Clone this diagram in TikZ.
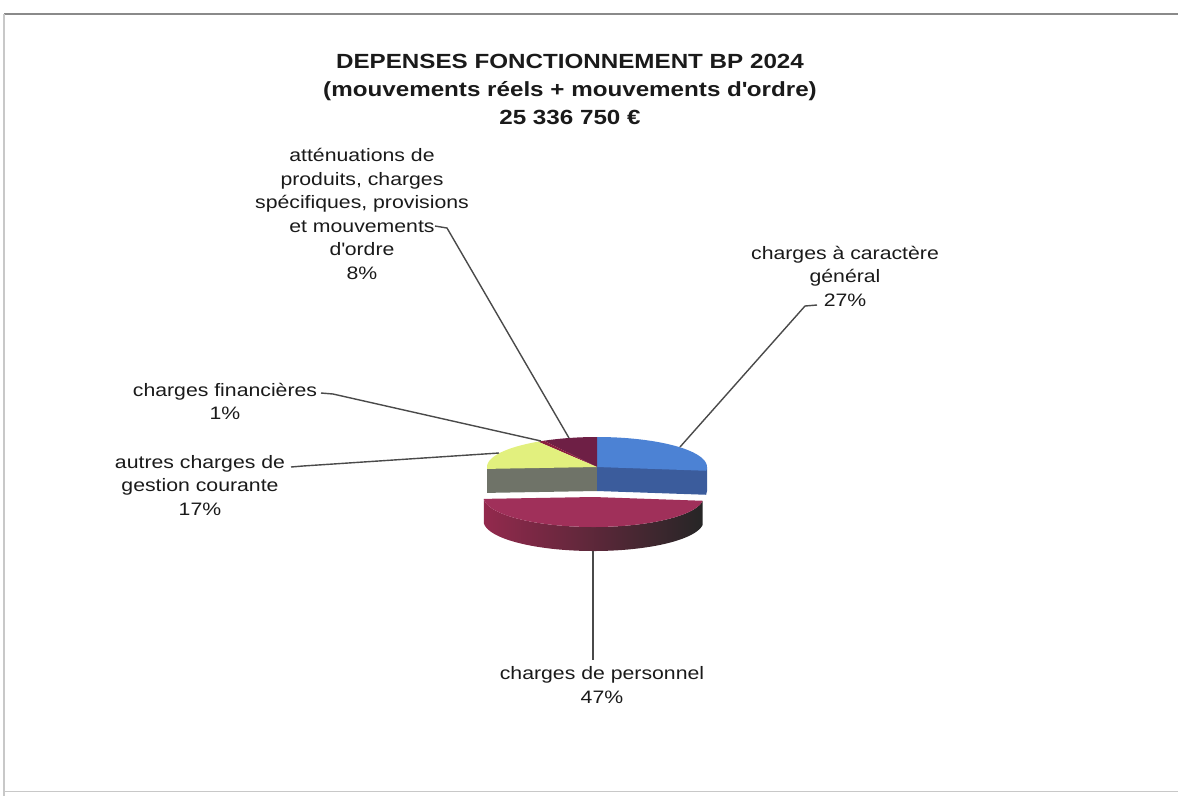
\documentclass[tikz,border=0pt]{standalone}
\usepackage{fontspec}
\usetikzlibrary{calc}
\setmainfont{Liberation Sans}[FakeStretch=1.18]
\definecolor{textc}{HTML}{1A1A1A}
\definecolor{leadc}{HTML}{4A4A4A}
\definecolor{frameA}{HTML}{8A8A8A}
\definecolor{frameB}{HTML}{C8C8C8}
\definecolor{blueTop}{HTML}{4C82D4}
\definecolor{blueSide}{HTML}{3B5C9C}
\definecolor{purpTop}{HTML}{6E1F45}
\definecolor{finTop}{HTML}{8B1E3F}
\definecolor{yelTop}{HTML}{E2F07E}
\definecolor{yelSide}{HTML}{6F7368}
\definecolor{redTop}{HTML}{A0305A}
\definecolor{redSideA}{HTML}{93294D}
\definecolor{redSideB}{HTML}{7A2444}
\definecolor{redSideC}{HTML}{262626}
\begin{document}
\begin{tikzpicture}[x=1pt,y=-1pt,
  lbl/.style={align=center,inner sep=0pt,text=textc,font=\fontsize{18}{23.5}\selectfont},
  ttl/.style={align=center,inner sep=0pt,text=textc,font=\bfseries\fontsize{20.5}{28}\selectfont},
  leader/.style={draw=leadc,line width=1.4pt}]
\useasboundingbox (0,0) rectangle (1178,796);
% frame
\draw[frameA,line width=2pt] (4,14) -- (1178,14);
\draw[frameB,line width=1.5pt] (4,14) -- (4,796);
\draw[frameB,line width=1pt] (4,791) -- (1178,791);
% title
\node[ttl] (title) at (570,89) {DEPENSES FONCTIONNEMENT BP 2024\\(mouvements réels + mouvements d\textquotesingle ordre)\\25 336 750 €};
% pie
\begin{scope}[shift={(597,467)},x=110pt,y=30pt]
  \def\dd{0.8}
  % walls of the upper part
  \fill[yelSide] (0,0) -- (-1,0) -- (-1,-\dd) -- ($(183.6:1)+(0,-\dd)$) -- (0,-\dd) -- cycle;
  \fill[blueSide] (0,0) -- (1,0) -- (1,-\dd) -- ($(-7.2:1)+(0,-\dd)$) -- (0,-\dd) -- cycle;
  % top faces of the upper part
  \fill[blueTop] (0,0) -- plot[domain=-7.2:90,samples=60] ({cos(\x)},{sin(\x)}) -- cycle;
  \fill[purpTop] (0,0) -- plot[domain=90:118.8,samples=20] ({cos(\x)},{sin(\x)}) -- cycle;
  \fill[finTop] (0,0) -- plot[domain=118.8:122.4,samples=5] ({cos(\x)},{sin(\x)}) -- cycle;
  \fill[yelTop] (0,0) -- plot[domain=122.4:183.6,samples=40] ({cos(\x)},{sin(\x)}) -- cycle;
  % exploded personnel slice
  \begin{scope}[shift={(-0.031,-1)}]
    \shade[left color=redSideA,middle color=redSideB,right color=redSideC]
      plot[domain=183.6:352.8,samples=80] ({cos(\x)},{sin(\x)})
      -- plot[domain=352.8:183.6,samples=80] ({cos(\x)},{sin(\x)-\dd}) -- cycle;
    \fill[redTop] (0,0) -- plot[domain=183.6:352.8,samples=80] ({cos(\x)},{sin(\x)}) -- cycle;
  \end{scope}
\end{scope}
% labels
\node[lbl] (att) at (362,214) {atténuations de\\produits, charges\\spécifiques, provisions\\et mouvements\\d\textquotesingle ordre\\8\%};
\node[lbl] (gen) at (845,276) {charges à caractère\\général\\27\%};
\node[lbl] (fin) at (225,401.5) {charges financières\\1\%};
\node[lbl] (aut) at (200,485.5) {autres charges de\\gestion courante\\17\%};
\node[lbl] (pers) at (602,685) {charges de personnel\\47\%};
% leader coordinates
\coordinate (attA) at (435,226); \coordinate (attB) at (447,228); \coordinate (attC) at (569,438);
\coordinate (genA) at (817,305); \coordinate (genB) at (805,306); \coordinate (genC) at (680,447);
\coordinate (finA) at (321,393); \coordinate (finB) at (333,394); \coordinate (finC) at (541,441);
\coordinate (autA) at (291,467); \coordinate (autB) at (303,466); \coordinate (autC) at (499,453);
\coordinate (persA) at (593,551); \coordinate (persB) at (593,660);
\draw[leader] (attA) -- (attB) -- (attC);
\draw[leader] (genA) -- (genB) -- (genC);
\draw[leader] (finA) -- (finB) -- (finC);
\draw[leader] (autA) -- (autB) -- (autC);
\draw[leader] (persA) -- (persB);
\end{tikzpicture}
\end{document}
